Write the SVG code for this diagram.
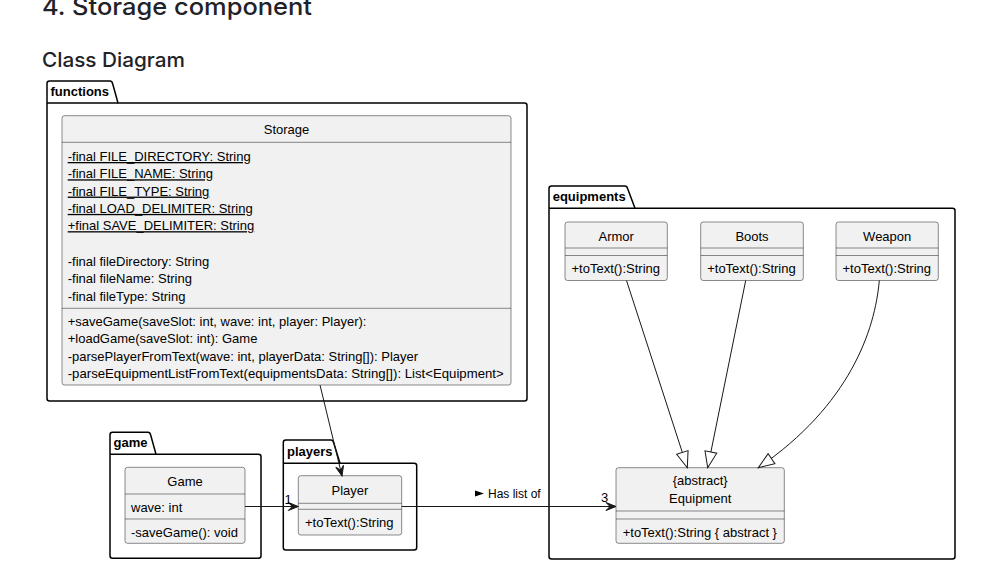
<svg xmlns="http://www.w3.org/2000/svg" width="992" height="578" viewBox="0 0 992 578">
<style>
.h{font-family:Inter,"Noto Sans","Liberation Sans",sans-serif;font-weight:500;fill:#1f2328}
.pkg{fill:#fff;stroke:#000;stroke-width:1.5}
.pt{font-family:"Liberation Sans",Arial,sans-serif;font-size:13px;font-weight:bold;fill:#000}
.cls{fill:#F1F1F1;stroke:#181818;stroke-width:0.5}
.dv{stroke:#181818;stroke-width:0.5;fill:none}
.t{font-family:"Liberation Sans",Arial,sans-serif;font-size:13px;fill:#000}
.c{text-anchor:middle}
.u{text-decoration:underline}
.ln{stroke:#181818;stroke-width:1;fill:none}
.lbl{font-family:"Liberation Sans",Arial,sans-serif;font-size:12px;fill:#000}
</style>
<defs>
<marker id="arr" viewBox="-11 -5 12 10" refX="0" refY="0" markerWidth="12" markerHeight="10" orient="auto" markerUnits="userSpaceOnUse"><path d="M0,0 L-10,-4 L-6,0 L-10,4 Z" fill="#181818" stroke="#181818" stroke-width="1"/></marker>
<marker id="tri" viewBox="-18 -8 20 16" refX="0" refY="0" markerWidth="20" markerHeight="16" orient="auto" markerUnits="userSpaceOnUse"><path d="M0,0 L-16,-6 L-16,6 Z" fill="#fff" stroke="#181818" stroke-width="1"/></marker>
</defs>
<rect width="992" height="578" fill="#fff"/>
<text class="h" x="42" y="15" font-size="24" textLength="270" lengthAdjust="spacingAndGlyphs">4. Storage component</text>
<text class="h" x="42" y="67" font-size="20" textLength="143" lengthAdjust="spacingAndGlyphs">Class Diagram</text>

<g id="pkg-functions">
<path class="pkg" d="M47,103 L47,83.5 Q47,81 49.5,81 L110,81 Q112,81 112.6,83.5 L118,103 L524.5,103 Q527,103 527,105.5 L527,398.5 Q527,401 524.5,401 L49.5,401 Q47,401 47,398.5 Z"/>
<path class="pkg" d="M47,103 L118,103"/>
<text class="pt" x="50.5" y="96">functions</text>
</g>

<g id="pkg-equipments">
<path class="pkg" d="M549,208.3 L549,188.5 Q549,186 551.5,186 L625,186 Q627,186 627.6,188.5 L635,208.3 L952.5,208.3 Q955,208.3 955,210.8 L955,556.5 Q955,559 952.5,559 L551.5,559 Q549,559 549,556.5 Z"/>
<path class="pkg" d="M549,208.3 L635,208.3"/>
<text class="pt" x="552.7" y="200.7">equipments</text>
</g>

<g id="pkg-game">
<path class="pkg" d="M110,454.3 L110,434.8 Q110,432.3 112.5,432.3 L148,432.3 Q150,432.3 150.6,434.8 L156,454.3 L258.5,454.3 Q261,454.3 261,456.8 L261,555.8 Q261,558.3 258.5,558.3 L112.5,558.3 Q110,558.3 110,555.8 Z"/>
<path class="pkg" d="M110,454.3 L156,454.3"/>
<text class="pt" x="113.5" y="446.7">game</text>
</g>

<g id="pkg-players">
<path class="pkg" d="M283.3,463.3 L283.3,442.5 Q283.3,440 285.8,440 L331,440 Q333,440 333.6,442.5 L340,463.3 L414.2,463.3 Q416.7,463.3 416.7,465.8 L416.7,547.5 Q416.7,550 414.2,550 L285.8,550 Q283.3,550 283.3,547.5 Z"/>
<path class="pkg" d="M283.3,463.3 L340,463.3"/>
<text class="pt" x="287" y="455.7">players</text>
</g>

<g id="Storage">
<rect class="cls" x="62" y="115.7" width="449" height="269.3" rx="2.5"/>
<path class="dv" d="M62,142.3 L511,142.3 M62,308.3 L511,308.3"/>
<text class="t c" x="286.5" y="134">Storage</text>
<text class="t u" x="67.7" y="161">-final FILE_DIRECTORY: String</text>
<text class="t u" x="67.7" y="178.3">-final FILE_NAME: String</text>
<text class="t u" x="67.7" y="195.6">-final FILE_TYPE: String</text>
<text class="t u" x="67.7" y="212.9">-final LOAD_DELIMITER: String</text>
<text class="t u" x="67.7" y="230.2">+final SAVE_DELIMITER: String</text>
<text class="t" x="67.7" y="265.5">-final fileDirectory: String</text>
<text class="t" x="67.7" y="283.1">-final fileName: String</text>
<text class="t" x="67.7" y="300.7">-final fileType: String</text>
<text class="t" x="67.7" y="326">+saveGame(saveSlot: int, wave: int, player: Player):</text>
<text class="t" x="67.7" y="343.4">+loadGame(saveSlot: int): Game</text>
<text class="t" x="67.7" y="360.8">-parsePlayerFromText(wave: int, playerData: String[]): Player</text>
<text class="t" x="67.7" y="378.2" textLength="436" lengthAdjust="spacingAndGlyphs">-parseEquipmentListFromText(equipmentsData: String[]): List&lt;Equipment&gt;</text>
</g>

<g id="Game">
<rect class="cls" x="125" y="467.3" width="120" height="76" rx="2.5"/>
<path class="dv" d="M125,494 L245,494 M125,519 L245,519"/>
<text class="t c" x="185" y="486">Game</text>
<text class="t" x="131" y="512">wave: int</text>
<text class="t" x="131" y="537">-saveGame(): void</text>
</g>

<g id="Player">
<rect class="cls" x="298.3" y="475.7" width="103.4" height="59.3" rx="2.5"/>
<path class="dv" d="M298.3,503.3 L401.7,503.3 M298.3,509.3 L401.7,509.3"/>
<text class="t c" x="350" y="495">Player</text>
<text class="t" x="305" y="527.3">+toText():String</text>
</g>

<g id="Armor">
<rect class="cls" x="565" y="222" width="102.3" height="58.5" rx="2.5"/>
<path class="dv" d="M565,248 L667.3,248 M565,255.5 L667.3,255.5"/>
<text class="t c" x="616.2" y="240.5">Armor</text>
<text class="t" x="571.5" y="273">+toText():String</text>
</g>

<g id="Boots">
<rect class="cls" x="700.7" y="222" width="102.6" height="58.5" rx="2.5"/>
<path class="dv" d="M700.7,248 L803.3,248 M700.7,255.5 L803.3,255.5"/>
<text class="t c" x="752" y="240.5">Boots</text>
<text class="t" x="707.2" y="273">+toText():String</text>
</g>

<g id="Weapon">
<rect class="cls" x="836" y="222" width="102.3" height="58.5" rx="2.5"/>
<path class="dv" d="M836,248 L938.3,248 M836,255.5 L938.3,255.5"/>
<text class="t c" x="887.2" y="240.5">Weapon</text>
<text class="t" x="842.5" y="273">+toText():String</text>
</g>

<g id="Equipment">
<rect class="cls" x="616" y="467.7" width="168.3" height="75.6" rx="2.5"/>
<path class="dv" d="M616,511 L784.3,511 M616,519 L784.3,519"/>
<text class="t c" x="700.2" y="485">{abstract}</text>
<text class="t c" x="700.2" y="503.3">Equipment</text>
<text class="t" x="622.7" y="536.7">+toText():String { abstract }</text>
</g>

<g id="connectors">
<path class="ln" d="M320,385 L342,476" marker-end="url(#arr)"/>
<path class="ln" d="M245,506.5 L298.3,506.5" marker-end="url(#arr)"/>
<text class="t" x="284.5" y="504">1</text>
<path class="ln" d="M401.7,506.5 L616,506.5" marker-end="url(#arr)"/>
<polygon points="475,490.5 484,493.5 475,496.5" fill="#000"/>
<text class="lbl" x="488" y="498">Has list of</text>
<text class="t" x="601" y="502">3</text>
<path class="ln" d="M626.5,280.5 L687.3,467.7" marker-end="url(#tri)"/>
<path class="ln" d="M745.7,280.5 L707.7,467.7" marker-end="url(#tri)"/>
<path class="ln" d="M879.3,280.5 C875,330 850,405 758.3,467.7" marker-end="url(#tri)"/>
</g>
</svg>
